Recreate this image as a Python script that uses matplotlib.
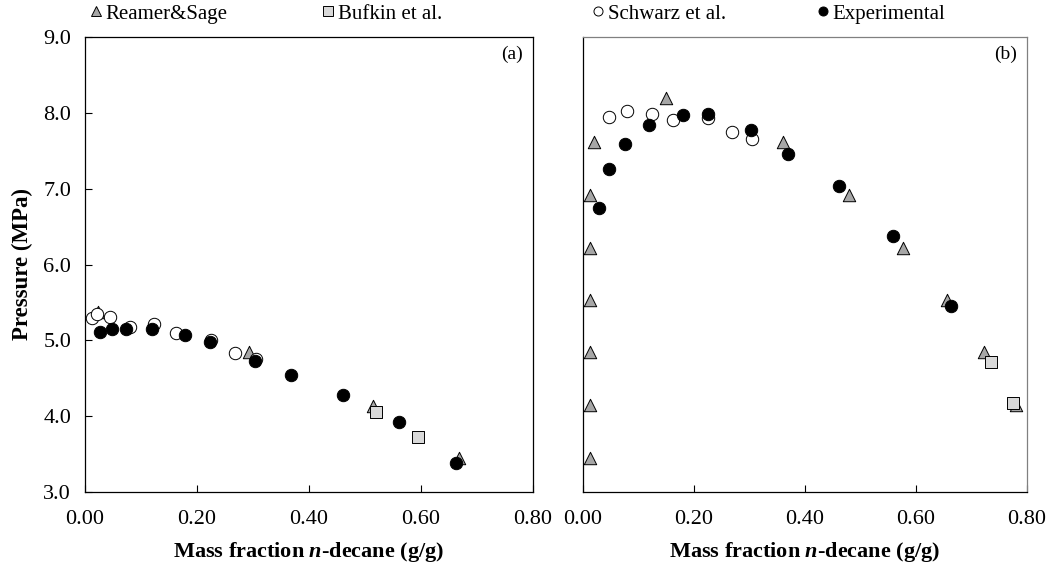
import matplotlib
matplotlib.use("Agg")
import matplotlib.pyplot as plt
from matplotlib.lines import Line2D

plt.rcParams['font.family'] = ['Liberation Serif', 'DejaVu Serif']
plt.rcParams['mathtext.fontset'] = 'custom'
plt.rcParams['mathtext.it'] = 'Liberation Serif:italic:bold'
plt.rcParams['mathtext.bf'] = 'Liberation Serif:bold'

# ---- panel (a) ----
a_reamer_x = [0.023, 0.292, 0.515, 0.667]
a_reamer_y = [5.38, 4.84, 4.14, 3.45]
a_bufkin_x = [0.520, 0.595]
a_bufkin_y = [4.06, 3.72]
a_schwarz_x = [0.012, 0.021, 0.044, 0.081, 0.124, 0.162, 0.225, 0.267, 0.305]
a_schwarz_y = [5.29, 5.35, 5.31, 5.18, 5.22, 5.10, 5.01, 4.83, 4.76]
a_exp_x = [0.026, 0.048, 0.073, 0.120, 0.178, 0.224, 0.303, 0.368, 0.461, 0.560, 0.662]
a_exp_y = [5.11, 5.15, 5.15, 5.15, 5.07, 4.98, 4.73, 4.54, 4.28, 3.92, 3.38]

# ---- panel (b) ----
b_reamer_x = [0.019, 0.149, 0.361, 0.013, 0.480, 0.013, 0.576, 0.013, 0.656,
              0.013, 0.723, 0.013, 0.781, 0.013]
b_reamer_y = [7.61, 8.19, 7.61, 6.92, 6.92, 6.22, 6.22, 5.53, 5.53,
              4.84, 4.84, 4.15, 4.15, 3.45]
b_bufkin_x = [0.735, 0.775]
b_bufkin_y = [4.71, 4.18]
b_schwarz_x = [0.046, 0.080, 0.124, 0.162, 0.226, 0.268, 0.304]
b_schwarz_y = [7.95, 8.03, 7.98, 7.90, 7.93, 7.75, 7.66]
b_exp_x = [0.028, 0.047, 0.076, 0.119, 0.180, 0.225, 0.302, 0.370, 0.462, 0.559, 0.663]
b_exp_y = [6.74, 7.26, 7.59, 7.84, 7.97, 7.99, 7.77, 7.46, 7.04, 6.37, 5.45]

xticks = [0.0, 0.2, 0.4, 0.6, 0.8]
yticks = [3.0, 4.0, 5.0, 6.0, 7.0, 8.0, 9.0]

TRI = dict(marker='^', s=80, facecolor='#a6a6a6', edgecolor='black', linewidths=0.7, zorder=3)
SQ = dict(marker='s', s=80, facecolor='#d9d9d9', edgecolor='black', linewidths=0.7, zorder=3)
OC = dict(marker='o', s=80, facecolor='white', edgecolor='black', linewidths=0.7, zorder=4)
FC = dict(marker='o', s=80, facecolor='black', edgecolor='black', linewidths=0.7, zorder=5)

fig = plt.figure(figsize=(10.61, 5.65), dpi=100)
W, H = 1061, 565
ax1 = fig.add_axes([85 / W, (H - 492) / H, 448 / W, 455 / H])
ax2 = fig.add_axes([583 / W, (H - 492) / H, 444 / W, 455 / H])

ax1.scatter(a_reamer_x, a_reamer_y, **TRI)
ax1.scatter(a_bufkin_x, a_bufkin_y, **SQ)
ax1.scatter(a_schwarz_x, a_schwarz_y, **OC)
ax1.scatter(a_exp_x, a_exp_y, **FC)

ax2.scatter(b_reamer_x, b_reamer_y, **TRI)
ax2.scatter(b_bufkin_x, b_bufkin_y, **SQ)
ax2.scatter(b_schwarz_x, b_schwarz_y, **OC)
ax2.scatter(b_exp_x, b_exp_y, **FC)

for ax in (ax1, ax2):
    ax.set_xlim(0, 0.8)
    ax.set_ylim(3, 9)
    ax.set_xticks(xticks)
    ax.set_xticklabels(['%.2f' % v for v in xticks])
    ax.tick_params(axis='x', direction='in', length=5, width=0.8, labelsize=16, pad=13)
    ax.set_xlabel(r'Mass fraction $\mathit{n}$-decane (g/g)', fontsize=16,
                  fontweight='bold', labelpad=8)
    for s in ax.spines.values():
        s.set_linewidth(0.9)

ax1.set_yticks(yticks)
ax1.set_yticklabels(['%.1f' % v for v in yticks])
ax1.tick_params(axis='y', direction='in', length=5, width=0.8, labelsize=16, pad=10)
ax1.set_ylabel('Pressure (MPa)', fontsize=16.5, fontweight='bold', labelpad=7)
ax2.set_yticks([])
ax2.spines['top'].set_color('#808080')
ax2.spines['right'].set_color('#808080')

ax1.text(0.978, 0.962, '(a)', transform=ax1.transAxes, ha='right', va='center', fontsize=14)
ax2.text(0.978, 0.962, '(b)', transform=ax2.transAxes, ha='right', va='center', fontsize=14)

# legend entries placed across the top
entries = [
    ('Reamer&Sage', '^', '#a6a6a6', 90),
    ('Bufkin et al.', 's', '#d9d9d9', 322),
    ('Schwarz et al.', 'o', 'white', 592),
    ('Experimental', 'o', 'black', 817),
]
for label, mk, fc, px in entries:
    h = Line2D([], [], linestyle='none', marker=mk, markersize=6.5,
               markerfacecolor=fc, markeredgecolor='black', markeredgewidth=0.7)
    fig.legend(handles=[h], labels=[label], loc='center left',
               bbox_to_anchor=(px / W, 1 - 14 / H), frameon=False,
               fontsize=15, handlelength=0.6, handletextpad=0.15,
               borderpad=0, borderaxespad=0)

fig.savefig('out.png', dpi=100)
